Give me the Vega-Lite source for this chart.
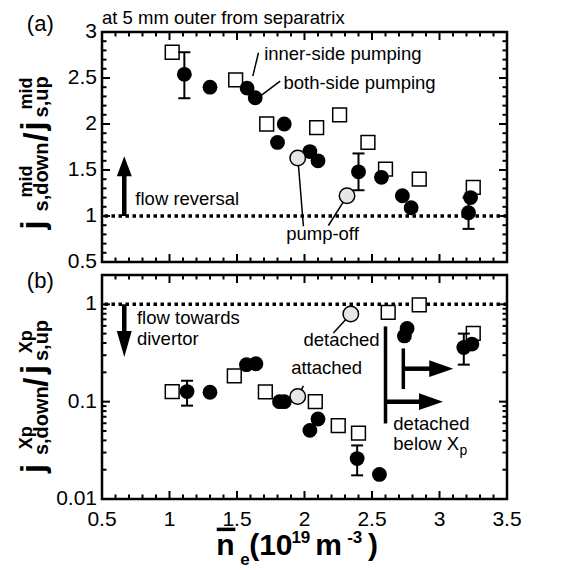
{
"$schema": "https://vega.github.io/schema/vega-lite/v6.json",
"background": "white",
"padding": {"left": 17, "top": 8, "right": 5, "bottom": 0},
"bounds": "flush",
"spacing": 13,
"datasets": {
 "one": [{"y": 1}],
 "xMajA": [{"v":0.5,"lo":0.5,"hi":3},{"v":1,"lo":0.5,"hi":3},{"v":1.5,"lo":0.5,"hi":3},{"v":2,"lo":0.5,"hi":3},{"v":2.5,"lo":0.5,"hi":3},{"v":3,"lo":0.5,"hi":3},{"v":3.5,"lo":0.5,"hi":3}],
 "xMinA": [{"v":0.6,"lo":0.5,"hi":3},{"v":0.7,"lo":0.5,"hi":3},{"v":0.8,"lo":0.5,"hi":3},{"v":0.9,"lo":0.5,"hi":3},{"v":1.1,"lo":0.5,"hi":3},{"v":1.2,"lo":0.5,"hi":3},{"v":1.3,"lo":0.5,"hi":3},{"v":1.4,"lo":0.5,"hi":3},{"v":1.6,"lo":0.5,"hi":3},{"v":1.7,"lo":0.5,"hi":3},{"v":1.8,"lo":0.5,"hi":3},{"v":1.9,"lo":0.5,"hi":3},{"v":2.1,"lo":0.5,"hi":3},{"v":2.2,"lo":0.5,"hi":3},{"v":2.3,"lo":0.5,"hi":3},{"v":2.4,"lo":0.5,"hi":3},{"v":2.6,"lo":0.5,"hi":3},{"v":2.7,"lo":0.5,"hi":3},{"v":2.8,"lo":0.5,"hi":3},{"v":2.9,"lo":0.5,"hi":3},{"v":3.1,"lo":0.5,"hi":3},{"v":3.2,"lo":0.5,"hi":3},{"v":3.3,"lo":0.5,"hi":3},{"v":3.4,"lo":0.5,"hi":3}],
 "yMajA": [{"v":0.5,"l":0.5,"r":3.5},{"v":1,"l":0.5,"r":3.5},{"v":1.5,"l":0.5,"r":3.5},{"v":2,"l":0.5,"r":3.5},{"v":2.5,"l":0.5,"r":3.5},{"v":3,"l":0.5,"r":3.5}],
 "yMinA": [{"v":0.6,"l":0.5,"r":3.5},{"v":0.7,"l":0.5,"r":3.5},{"v":0.8,"l":0.5,"r":3.5},{"v":0.9,"l":0.5,"r":3.5},{"v":1.1,"l":0.5,"r":3.5},{"v":1.2,"l":0.5,"r":3.5},{"v":1.3,"l":0.5,"r":3.5},{"v":1.4,"l":0.5,"r":3.5},{"v":1.6,"l":0.5,"r":3.5},{"v":1.7,"l":0.5,"r":3.5},{"v":1.8,"l":0.5,"r":3.5},{"v":1.9,"l":0.5,"r":3.5},{"v":2.1,"l":0.5,"r":3.5},{"v":2.2,"l":0.5,"r":3.5},{"v":2.3,"l":0.5,"r":3.5},{"v":2.4,"l":0.5,"r":3.5},{"v":2.6,"l":0.5,"r":3.5},{"v":2.7,"l":0.5,"r":3.5},{"v":2.8,"l":0.5,"r":3.5},{"v":2.9,"l":0.5,"r":3.5}],
 "xMajB": [{"v":0.5,"lo":0.01,"hi":2},{"v":1,"lo":0.01,"hi":2},{"v":1.5,"lo":0.01,"hi":2},{"v":2,"lo":0.01,"hi":2},{"v":2.5,"lo":0.01,"hi":2},{"v":3,"lo":0.01,"hi":2},{"v":3.5,"lo":0.01,"hi":2}],
 "xMinB": [{"v":0.6,"lo":0.01,"hi":2},{"v":0.7,"lo":0.01,"hi":2},{"v":0.8,"lo":0.01,"hi":2},{"v":0.9,"lo":0.01,"hi":2},{"v":1.1,"lo":0.01,"hi":2},{"v":1.2,"lo":0.01,"hi":2},{"v":1.3,"lo":0.01,"hi":2},{"v":1.4,"lo":0.01,"hi":2},{"v":1.6,"lo":0.01,"hi":2},{"v":1.7,"lo":0.01,"hi":2},{"v":1.8,"lo":0.01,"hi":2},{"v":1.9,"lo":0.01,"hi":2},{"v":2.1,"lo":0.01,"hi":2},{"v":2.2,"lo":0.01,"hi":2},{"v":2.3,"lo":0.01,"hi":2},{"v":2.4,"lo":0.01,"hi":2},{"v":2.6,"lo":0.01,"hi":2},{"v":2.7,"lo":0.01,"hi":2},{"v":2.8,"lo":0.01,"hi":2},{"v":2.9,"lo":0.01,"hi":2},{"v":3.1,"lo":0.01,"hi":2},{"v":3.2,"lo":0.01,"hi":2},{"v":3.3,"lo":0.01,"hi":2},{"v":3.4,"lo":0.01,"hi":2}],
 "yMajB": [{"v":0.01,"l":0.5,"r":3.5},{"v":0.1,"l":0.5,"r":3.5},{"v":1,"l":0.5,"r":3.5}],
 "yMinB": [{"v":0.02,"l":0.5,"r":3.5},{"v":0.03,"l":0.5,"r":3.5},{"v":0.04,"l":0.5,"r":3.5},{"v":0.05,"l":0.5,"r":3.5},{"v":0.06,"l":0.5,"r":3.5},{"v":0.07,"l":0.5,"r":3.5},{"v":0.08,"l":0.5,"r":3.5},{"v":0.09,"l":0.5,"r":3.5},{"v":0.2,"l":0.5,"r":3.5},{"v":0.3,"l":0.5,"r":3.5},{"v":0.4,"l":0.5,"r":3.5},{"v":0.5,"l":0.5,"r":3.5},{"v":0.6,"l":0.5,"r":3.5},{"v":0.7,"l":0.5,"r":3.5},{"v":0.8,"l":0.5,"r":3.5},{"v":0.9,"l":0.5,"r":3.5}],
 "sqA": [{"x":1.02,"y":2.78},{"x":1.49,"y":2.48},{"x":1.72,"y":2.0},{"x":2.09,"y":1.96},{"x":2.26,"y":2.10},{"x":2.47,"y":1.80},{"x":2.60,"y":1.51},{"x":2.85,"y":1.40},{"x":3.25,"y":1.31}],
 "ciA": [{"x":1.11,"y":2.54},{"x":1.30,"y":2.40},{"x":1.575,"y":2.39},{"x":1.635,"y":2.285},{"x":1.80,"y":1.80},{"x":1.85,"y":2.0},{"x":2.04,"y":1.70},{"x":2.10,"y":1.60},{"x":2.40,"y":1.48},{"x":2.57,"y":1.42},{"x":2.725,"y":1.22},{"x":2.79,"y":1.09},{"x":3.23,"y":1.20},{"x":3.215,"y":1.035}],
 "grA": [{"x":1.95,"y":1.63},{"x":2.315,"y":1.22}],
 "errA": [{"x":1.11,"lo":2.28,"hi":2.78},{"x":2.40,"lo":1.28,"hi":1.68},{"x":3.215,"lo":0.86,"hi":1.20}],
 "leadA": [{"x":1.617,"y":2.52,"x2":1.659,"y2":2.775},{"x":1.672,"y":2.302,"x2":1.82,"y2":2.465},{"x":1.951,"y":1.628,"x2":1.992,"y2":0.889},{"x":2.316,"y":1.219,"x2":2.177,"y2":0.897}],
 "txtA": [{"t":"inner-side pumping","x":1.701,"y":2.70},{"t":"both-side pumping","x":1.844,"y":2.383},{"t":"pump-off","x":1.864,"y":0.737},{"t":"flow reversal","x":0.747,"y":1.125},{"t":"at 5 mm outer from separatrix","x":0.5,"y":3.082}],
 "labA": [{"t":"(a)","x":0.043,"y":3.009}],
 "shaftA": [{"x":0.665,"y":1.0,"y2":1.45}],
 "headUpA": [{"x":0.665,"y":1.541}],
 "tBigA": [{"t":"j","x":0.073,"y":0.853},{"t":"/","x":0.095,"y":1.81},{"t":"j","x":0.073,"y":1.929}],
 "tSupA": [{"t":"mid","x":-0.016,"y":1.201},{"t":"mid","x":-0.016,"y":2.158}],
 "tSubA": [{"t":"s,down","x":0.103,"y":1.049},{"t":"s,up","x":0.103,"y":2.071}],
 "sqB": [{"x":1.02,"y":0.127},{"x":1.48,"y":0.184},{"x":1.71,"y":0.126},{"x":2.08,"y":0.100},{"x":2.25,"y":0.0566},{"x":2.40,"y":0.0476},{"x":2.62,"y":0.825},{"x":2.85,"y":0.985},{"x":3.25,"y":0.503}],
 "ciB": [{"x":1.13,"y":0.127},{"x":1.30,"y":0.125},{"x":1.57,"y":0.24},{"x":1.64,"y":0.245},{"x":1.815,"y":0.10},{"x":1.85,"y":0.10},{"x":2.04,"y":0.0507},{"x":2.10,"y":0.0664},{"x":2.39,"y":0.026},{"x":2.555,"y":0.0179},{"x":2.74,"y":0.473},{"x":2.76,"y":0.565},{"x":3.18,"y":0.36},{"x":3.24,"y":0.39}],
 "grB": [{"x":1.95,"y":0.113},{"x":2.343,"y":0.794}],
 "errB": [{"x":1.13,"lo":0.091,"hi":0.164},{"x":2.39,"lo":0.0175,"hi":0.0355},{"x":3.18,"lo":0.24,"hi":0.50}],
 "leadB": [{"x":2.343,"y":0.794,"x2":2.214,"y2":0.507},{"x":1.951,"y":0.113,"x2":1.992,"y2":0.1455}],
 "txtB": [{"t":"flow towards","x":0.759,"y":0.6215},{"t":"divertor","x":0.759,"y":0.380},{"t":"detached","x":1.992,"y":0.371},{"t":"attached","x":1.901,"y":0.191},{"t":"detached","x":2.658,"y":0.0515},{"t":"below X","x":2.658,"y":0.0318}],
 "subB": [{"t":"p","x":3.148,"y":0.0282}],
 "labB": [{"t":"(b)","x":0.043,"y":1.455}],
 "shaftB": [{"x":0.665,"y":1.0,"y2":0.5}],
 "headDownB": [{"x":0.665,"y":0.392}],
 "vertB": [{"x":2.600,"y":0.593,"y2":0.0597},{"x":2.732,"y":0.352,"y2":0.1346}],
 "hshaftB": [{"x":2.600,"x2":2.87,"y":0.1},{"x":2.732,"x2":2.94,"y":0.218}],
 "headRightB": [{"x":2.937,"y":0.1},{"x":3.013,"y":0.218}],
 "tBigB": [{"t":"j","x":0.073,"y":0.01852},{"t":"/","x":0.095,"y":0.1422},{"t":"j","x":0.073,"y":0.1928}],
 "tSupB": [{"t":"Xp","x":-0.016,"y":0.0325},{"t":"Xp","x":-0.016,"y":0.315}],
 "tSubB": [{"t":"s,down","x":0.103,"y":0.02823},{"t":"s,up","x":0.103,"y":0.2613}],
 "xtBig": [{"t":"n","x":1.346,"y":0.002649},{"t":"(10","x":1.590,"y":0.002649},{"t":"m","x":2.079,"y":0.002649},{"t":")","x":2.471,"y":0.002649}],
 "xtSmall": [{"t":"19","x":1.903,"y":0.003509},{"t":"-3","x":2.316,"y":0.003509},{"t":"e","x":1.524,"y":0.002095}],
 "xtBar": [{"x":1.350,"x2":1.488,"y":0.004875}]
},
"vconcat": [
 {
  "width": 405, "height": 230,
  "layer": [
   {"data":{"name":"one"},"mark":{"type":"rule","strokeDash":[3.5,3.5],"strokeWidth":3.5,"color":"black"},
    "encoding":{"y":{"field":"y","type":"quantitative","scale":{"domain":[0.5,3],"nice":false,"zero":false},"axis":null}}},
   {"data":{"name":"sqA"},"mark":{"type":"point","shape":"square","filled":true,"fill":"white","stroke":"black","strokeWidth":1.5,"size":190,"opacity":1},
    "encoding":{"x":{"field":"x","type":"quantitative","scale":{"domain":[0.5,3.5],"nice":false,"zero":false},"axis":null},
     "y":{"field":"y","type":"quantitative","scale":{"domain":[0.5,3],"nice":false,"zero":false},"axis":null}}},
   {"data":{"name":"errA"},"mark":{"type":"rule","strokeWidth":2,"color":"black"},
    "encoding":{"x":{"field":"x","type":"quantitative","scale":{"domain":[0.5,3.5],"nice":false,"zero":false},"axis":null},
     "y":{"field":"lo","type":"quantitative","scale":{"domain":[0.5,3],"nice":false,"zero":false},"axis":null},"y2":{"field":"hi"}}},
   {"data":{"name":"errA"},"mark":{"type":"tick","orient":"horizontal","size":12,"thickness":2,"color":"black","opacity":1},
    "encoding":{"x":{"field":"x","type":"quantitative","scale":{"domain":[0.5,3.5],"nice":false,"zero":false},"axis":null},
     "y":{"field":"lo","type":"quantitative","scale":{"domain":[0.5,3],"nice":false,"zero":false},"axis":null}}},
   {"data":{"name":"errA"},"mark":{"type":"tick","orient":"horizontal","size":12,"thickness":2,"color":"black","opacity":1},
    "encoding":{"x":{"field":"x","type":"quantitative","scale":{"domain":[0.5,3.5],"nice":false,"zero":false},"axis":null},
     "y":{"field":"hi","type":"quantitative","scale":{"domain":[0.5,3],"nice":false,"zero":false},"axis":null}}},
   {"data":{"name":"leadA"},"mark":{"type":"rule","strokeWidth":1.5,"color":"black"},
    "encoding":{"x":{"field":"x","type":"quantitative","scale":{"domain":[0.5,3.5],"nice":false,"zero":false},"axis":null},"x2":{"field":"x2"},
     "y":{"field":"y","type":"quantitative","scale":{"domain":[0.5,3],"nice":false,"zero":false},"axis":null},"y2":{"field":"y2"}}},
   {"data":{"name":"ciA"},"mark":{"type":"point","shape":"circle","filled":true,"color":"black","size":220,"opacity":1},
    "encoding":{"x":{"field":"x","type":"quantitative","scale":{"domain":[0.5,3.5],"nice":false,"zero":false},"axis":null},
     "y":{"field":"y","type":"quantitative","scale":{"domain":[0.5,3],"nice":false,"zero":false},"axis":null}}},
   {"data":{"name":"grA"},"mark":{"type":"point","shape":"circle","filled":true,"fill":"#e6e6e6","stroke":"black","strokeWidth":1.5,"size":240,"opacity":1},
    "encoding":{"x":{"field":"x","type":"quantitative","scale":{"domain":[0.5,3.5],"nice":false,"zero":false},"axis":null},
     "y":{"field":"y","type":"quantitative","scale":{"domain":[0.5,3],"nice":false,"zero":false},"axis":null}}},
   {"data":{"name":"txtA"},"mark":{"type":"text","align":"left","baseline":"alphabetic","fontSize":18.5,"font":"Liberation Sans","color":"black"},
    "encoding":{"text":{"field":"t"},"x":{"field":"x","type":"quantitative","scale":{"domain":[0.5,3.5],"nice":false,"zero":false},"axis":null},
     "y":{"field":"y","type":"quantitative","scale":{"domain":[0.5,3],"nice":false,"zero":false},"axis":null}}},
   {"data":{"name":"labA"},"mark":{"type":"text","align":"center","baseline":"alphabetic","fontSize":22,"font":"Liberation Sans","color":"black"},
    "encoding":{"text":{"field":"t"},"x":{"field":"x","type":"quantitative","scale":{"domain":[0.5,3.5],"nice":false,"zero":false},"axis":null},
     "y":{"field":"y","type":"quantitative","scale":{"domain":[0.5,3],"nice":false,"zero":false},"axis":null}}},
   {"data":{"name":"shaftA"},"mark":{"type":"rule","strokeWidth":4.5,"color":"black"},
    "encoding":{"x":{"field":"x","type":"quantitative","scale":{"domain":[0.5,3.5],"nice":false,"zero":false},"axis":null},
     "y":{"field":"y","type":"quantitative","scale":{"domain":[0.5,3],"nice":false,"zero":false},"axis":null},"y2":{"field":"y2"}}},
   {"data":{"name":"headUpA"},"mark":{"type":"point","shape":"M-0.75,1L0,-1L0.75,1Z","filled":true,"color":"black","size":400,"opacity":1,"strokeWidth":0},
    "encoding":{"x":{"field":"x","type":"quantitative","scale":{"domain":[0.5,3.5],"nice":false,"zero":false},"axis":null},
     "y":{"field":"y","type":"quantitative","scale":{"domain":[0.5,3],"nice":false,"zero":false},"axis":null}}},
   {"data":{"name":"tBigA"},"mark":{"type":"text","angle":270,"align":"left","baseline":"alphabetic","fontSize":33,"fontWeight":"bold","font":"Liberation Sans","color":"black"},
    "encoding":{"text":{"field":"t"},"x":{"field":"x","type":"quantitative","scale":{"domain":[0.5,3.5],"nice":false,"zero":false},"axis":null},
     "y":{"field":"y","type":"quantitative","scale":{"domain":[0.5,3],"nice":false,"zero":false},"axis":null}}},
   {"data":{"name":"tSupA"},"mark":{"type":"text","angle":270,"align":"left","baseline":"alphabetic","fontSize":18,"fontWeight":"bold","font":"Liberation Sans","color":"black"},
    "encoding":{"text":{"field":"t"},"x":{"field":"x","type":"quantitative","scale":{"domain":[0.5,3.5],"nice":false,"zero":false},"axis":null},
     "y":{"field":"y","type":"quantitative","scale":{"domain":[0.5,3],"nice":false,"zero":false},"axis":null}}},
   {"data":{"name":"tSubA"},"mark":{"type":"text","angle":270,"align":"left","baseline":"alphabetic","fontSize":20,"fontWeight":"bold","font":"Liberation Sans","color":"black"},
    "encoding":{"text":{"field":"t"},"x":{"field":"x","type":"quantitative","scale":{"domain":[0.5,3.5],"nice":false,"zero":false},"axis":null},
     "y":{"field":"y","type":"quantitative","scale":{"domain":[0.5,3],"nice":false,"zero":false},"axis":null}}},
   {"data":{"name":"xMajA"},"mark":{"type":"tick","orient":"vertical","size":16,"thickness":2,"color":"black","opacity":1,"clip":true},
    "encoding":{"x":{"field":"v","type":"quantitative","scale":{"domain":[0.5,3.5],"nice":false,"zero":false},"axis":null},"y":{"field":"lo","type":"quantitative","scale":{"domain":[0.5,3],"nice":false,"zero":false},"axis":null}}},
   {"data":{"name":"xMajA"},"mark":{"type":"tick","orient":"vertical","size":16,"thickness":2,"color":"black","opacity":1,"clip":true},
    "encoding":{"x":{"field":"v","type":"quantitative","scale":{"domain":[0.5,3.5],"nice":false,"zero":false},"axis":null},"y":{"field":"hi","type":"quantitative","scale":{"domain":[0.5,3],"nice":false,"zero":false},"axis":null}}},
   {"data":{"name":"xMinA"},"mark":{"type":"tick","orient":"vertical","size":9,"thickness":2,"color":"black","opacity":1,"clip":true},
    "encoding":{"x":{"field":"v","type":"quantitative","scale":{"domain":[0.5,3.5],"nice":false,"zero":false},"axis":null},"y":{"field":"lo","type":"quantitative","scale":{"domain":[0.5,3],"nice":false,"zero":false},"axis":null}}},
   {"data":{"name":"xMinA"},"mark":{"type":"tick","orient":"vertical","size":9,"thickness":2,"color":"black","opacity":1,"clip":true},
    "encoding":{"x":{"field":"v","type":"quantitative","scale":{"domain":[0.5,3.5],"nice":false,"zero":false},"axis":null},"y":{"field":"hi","type":"quantitative","scale":{"domain":[0.5,3],"nice":false,"zero":false},"axis":null}}},
   {"data":{"name":"yMajA"},"mark":{"type":"tick","orient":"horizontal","size":16,"thickness":2,"color":"black","opacity":1,"clip":true},
    "encoding":{"y":{"field":"v","type":"quantitative","scale":{"domain":[0.5,3],"nice":false,"zero":false},"axis":null},"x":{"field":"l","type":"quantitative","scale":{"domain":[0.5,3.5],"nice":false,"zero":false},"axis":null}}},
   {"data":{"name":"yMajA"},"mark":{"type":"tick","orient":"horizontal","size":16,"thickness":2,"color":"black","opacity":1,"clip":true},
    "encoding":{"y":{"field":"v","type":"quantitative","scale":{"domain":[0.5,3],"nice":false,"zero":false},"axis":null},"x":{"field":"r","type":"quantitative","scale":{"domain":[0.5,3.5],"nice":false,"zero":false},"axis":null}}},
   {"data":{"name":"yMinA"},"mark":{"type":"tick","orient":"horizontal","size":9,"thickness":2,"color":"black","opacity":1,"clip":true},
    "encoding":{"y":{"field":"v","type":"quantitative","scale":{"domain":[0.5,3],"nice":false,"zero":false},"axis":null},"x":{"field":"l","type":"quantitative","scale":{"domain":[0.5,3.5],"nice":false,"zero":false},"axis":null}}},
   {"data":{"name":"yMinA"},"mark":{"type":"tick","orient":"horizontal","size":9,"thickness":2,"color":"black","opacity":1,"clip":true},
    "encoding":{"y":{"field":"v","type":"quantitative","scale":{"domain":[0.5,3],"nice":false,"zero":false},"axis":null},"x":{"field":"r","type":"quantitative","scale":{"domain":[0.5,3.5],"nice":false,"zero":false},"axis":null}}},
   {"data":{"name":"yMajA"},"mark":{"type":"text","align":"right","baseline":"middle","dx":-5,"fontSize":21,"font":"Liberation Sans","color":"black"},
    "encoding":{"text":{"field":"v","type":"quantitative","format":"~g"},"y":{"field":"v","type":"quantitative","scale":{"domain":[0.5,3],"nice":false,"zero":false},"axis":null},"x":{"field":"l","type":"quantitative","scale":{"domain":[0.5,3.5],"nice":false,"zero":false},"axis":null}}}
  ]
 },
 {
  "width": 405, "height": 224,
  "layer": [
   {"data":{"name":"one"},"mark":{"type":"rule","strokeDash":[3.5,3.5],"strokeWidth":3.5,"color":"black"},
    "encoding":{"y":{"field":"y","type":"quantitative","scale":{"type":"log","domain":[0.01,2],"nice":false},"axis":null}}},
   {"data":{"name":"sqB"},"mark":{"type":"point","shape":"square","filled":true,"fill":"white","stroke":"black","strokeWidth":1.5,"size":190,"opacity":1},
    "encoding":{"x":{"field":"x","type":"quantitative","scale":{"domain":[0.5,3.5],"nice":false,"zero":false},"axis":null},
     "y":{"field":"y","type":"quantitative","scale":{"type":"log","domain":[0.01,2],"nice":false},"axis":null}}},
   {"data":{"name":"errB"},"mark":{"type":"rule","strokeWidth":2,"color":"black"},
    "encoding":{"x":{"field":"x","type":"quantitative","scale":{"domain":[0.5,3.5],"nice":false,"zero":false},"axis":null},
     "y":{"field":"lo","type":"quantitative","scale":{"type":"log","domain":[0.01,2],"nice":false},"axis":null},"y2":{"field":"hi"}}},
   {"data":{"name":"errB"},"mark":{"type":"tick","orient":"horizontal","size":12,"thickness":2,"color":"black","opacity":1},
    "encoding":{"x":{"field":"x","type":"quantitative","scale":{"domain":[0.5,3.5],"nice":false,"zero":false},"axis":null},
     "y":{"field":"lo","type":"quantitative","scale":{"type":"log","domain":[0.01,2],"nice":false},"axis":null}}},
   {"data":{"name":"errB"},"mark":{"type":"tick","orient":"horizontal","size":12,"thickness":2,"color":"black","opacity":1},
    "encoding":{"x":{"field":"x","type":"quantitative","scale":{"domain":[0.5,3.5],"nice":false,"zero":false},"axis":null},
     "y":{"field":"hi","type":"quantitative","scale":{"type":"log","domain":[0.01,2],"nice":false},"axis":null}}},
   {"data":{"name":"leadB"},"mark":{"type":"rule","strokeWidth":1.5,"color":"black"},
    "encoding":{"x":{"field":"x","type":"quantitative","scale":{"domain":[0.5,3.5],"nice":false,"zero":false},"axis":null},"x2":{"field":"x2"},
     "y":{"field":"y","type":"quantitative","scale":{"type":"log","domain":[0.01,2],"nice":false},"axis":null},"y2":{"field":"y2"}}},
   {"data":{"name":"ciB"},"mark":{"type":"point","shape":"circle","filled":true,"color":"black","size":220,"opacity":1},
    "encoding":{"x":{"field":"x","type":"quantitative","scale":{"domain":[0.5,3.5],"nice":false,"zero":false},"axis":null},
     "y":{"field":"y","type":"quantitative","scale":{"type":"log","domain":[0.01,2],"nice":false},"axis":null}}},
   {"data":{"name":"grB"},"mark":{"type":"point","shape":"circle","filled":true,"fill":"#e6e6e6","stroke":"black","strokeWidth":1.5,"size":240,"opacity":1},
    "encoding":{"x":{"field":"x","type":"quantitative","scale":{"domain":[0.5,3.5],"nice":false,"zero":false},"axis":null},
     "y":{"field":"y","type":"quantitative","scale":{"type":"log","domain":[0.01,2],"nice":false},"axis":null}}},
   {"data":{"name":"txtB"},"mark":{"type":"text","align":"left","baseline":"alphabetic","fontSize":18.5,"font":"Liberation Sans","color":"black"},
    "encoding":{"text":{"field":"t"},"x":{"field":"x","type":"quantitative","scale":{"domain":[0.5,3.5],"nice":false,"zero":false},"axis":null},
     "y":{"field":"y","type":"quantitative","scale":{"type":"log","domain":[0.01,2],"nice":false},"axis":null}}},
   {"data":{"name":"subB"},"mark":{"type":"text","align":"left","baseline":"alphabetic","fontSize":14,"font":"Liberation Sans","color":"black"},
    "encoding":{"text":{"field":"t"},"x":{"field":"x","type":"quantitative","scale":{"domain":[0.5,3.5],"nice":false,"zero":false},"axis":null},
     "y":{"field":"y","type":"quantitative","scale":{"type":"log","domain":[0.01,2],"nice":false},"axis":null}}},
   {"data":{"name":"labB"},"mark":{"type":"text","align":"center","baseline":"alphabetic","fontSize":22,"font":"Liberation Sans","color":"black"},
    "encoding":{"text":{"field":"t"},"x":{"field":"x","type":"quantitative","scale":{"domain":[0.5,3.5],"nice":false,"zero":false},"axis":null},
     "y":{"field":"y","type":"quantitative","scale":{"type":"log","domain":[0.01,2],"nice":false},"axis":null}}},
   {"data":{"name":"shaftB"},"mark":{"type":"rule","strokeWidth":4.5,"color":"black"},
    "encoding":{"x":{"field":"x","type":"quantitative","scale":{"domain":[0.5,3.5],"nice":false,"zero":false},"axis":null},
     "y":{"field":"y","type":"quantitative","scale":{"type":"log","domain":[0.01,2],"nice":false},"axis":null},"y2":{"field":"y2"}}},
   {"data":{"name":"headDownB"},"mark":{"type":"point","shape":"M-0.577,-1L0,1L0.577,-1Z","filled":true,"color":"black","size":676,"opacity":1,"strokeWidth":0},
    "encoding":{"x":{"field":"x","type":"quantitative","scale":{"domain":[0.5,3.5],"nice":false,"zero":false},"axis":null},
     "y":{"field":"y","type":"quantitative","scale":{"type":"log","domain":[0.01,2],"nice":false},"axis":null}}},
   {"data":{"name":"vertB"},"mark":{"type":"rule","strokeWidth":3.5,"color":"black"},
    "encoding":{"x":{"field":"x","type":"quantitative","scale":{"domain":[0.5,3.5],"nice":false,"zero":false},"axis":null},
     "y":{"field":"y","type":"quantitative","scale":{"type":"log","domain":[0.01,2],"nice":false},"axis":null},"y2":{"field":"y2"}}},
   {"data":{"name":"hshaftB"},"mark":{"type":"rule","strokeWidth":4.5,"color":"black"},
    "encoding":{"x":{"field":"x","type":"quantitative","scale":{"domain":[0.5,3.5],"nice":false,"zero":false},"axis":null},"x2":{"field":"x2"},
     "y":{"field":"y","type":"quantitative","scale":{"type":"log","domain":[0.01,2],"nice":false},"axis":null}}},
   {"data":{"name":"headRightB"},"mark":{"type":"point","shape":"M-1,-0.7L1,0L-1,0.7Z","filled":true,"color":"black","size":576,"opacity":1,"strokeWidth":0},
    "encoding":{"x":{"field":"x","type":"quantitative","scale":{"domain":[0.5,3.5],"nice":false,"zero":false},"axis":null},
     "y":{"field":"y","type":"quantitative","scale":{"type":"log","domain":[0.01,2],"nice":false},"axis":null}}},
   {"data":{"name":"tBigB"},"mark":{"type":"text","angle":270,"align":"left","baseline":"alphabetic","fontSize":33,"fontWeight":"bold","font":"Liberation Sans","color":"black"},
    "encoding":{"text":{"field":"t"},"x":{"field":"x","type":"quantitative","scale":{"domain":[0.5,3.5],"nice":false,"zero":false},"axis":null},
     "y":{"field":"y","type":"quantitative","scale":{"type":"log","domain":[0.01,2],"nice":false},"axis":null}}},
   {"data":{"name":"tSupB"},"mark":{"type":"text","angle":270,"align":"left","baseline":"alphabetic","fontSize":18,"fontWeight":"bold","font":"Liberation Sans","color":"black"},
    "encoding":{"text":{"field":"t"},"x":{"field":"x","type":"quantitative","scale":{"domain":[0.5,3.5],"nice":false,"zero":false},"axis":null},
     "y":{"field":"y","type":"quantitative","scale":{"type":"log","domain":[0.01,2],"nice":false},"axis":null}}},
   {"data":{"name":"tSubB"},"mark":{"type":"text","angle":270,"align":"left","baseline":"alphabetic","fontSize":20,"fontWeight":"bold","font":"Liberation Sans","color":"black"},
    "encoding":{"text":{"field":"t"},"x":{"field":"x","type":"quantitative","scale":{"domain":[0.5,3.5],"nice":false,"zero":false},"axis":null},
     "y":{"field":"y","type":"quantitative","scale":{"type":"log","domain":[0.01,2],"nice":false},"axis":null}}},
   {"data":{"name":"xtBig"},"mark":{"type":"text","align":"left","baseline":"alphabetic","fontSize":30,"fontWeight":"bold","font":"Liberation Sans","color":"black"},
    "encoding":{"text":{"field":"t"},"x":{"field":"x","type":"quantitative","scale":{"domain":[0.5,3.5],"nice":false,"zero":false},"axis":null},
     "y":{"field":"y","type":"quantitative","scale":{"type":"log","domain":[0.01,2],"nice":false},"axis":null}}},
   {"data":{"name":"xtSmall"},"mark":{"type":"text","align":"left","baseline":"alphabetic","fontSize":17,"fontWeight":"bold","font":"Liberation Sans","color":"black"},
    "encoding":{"text":{"field":"t"},"x":{"field":"x","type":"quantitative","scale":{"domain":[0.5,3.5],"nice":false,"zero":false},"axis":null},
     "y":{"field":"y","type":"quantitative","scale":{"type":"log","domain":[0.01,2],"nice":false},"axis":null}}},
   {"data":{"name":"xtBar"},"mark":{"type":"rule","strokeWidth":3.5,"color":"black"},
    "encoding":{"x":{"field":"x","type":"quantitative","scale":{"domain":[0.5,3.5],"nice":false,"zero":false},"axis":null},"x2":{"field":"x2"},
     "y":{"field":"y","type":"quantitative","scale":{"type":"log","domain":[0.01,2],"nice":false},"axis":null}}},
   {"data":{"name":"xMajB"},"mark":{"type":"tick","orient":"vertical","size":16,"thickness":2,"color":"black","opacity":1,"clip":true},
    "encoding":{"x":{"field":"v","type":"quantitative","scale":{"domain":[0.5,3.5],"nice":false,"zero":false},"axis":null},"y":{"field":"lo","type":"quantitative","scale":{"type":"log","domain":[0.01,2],"nice":false},"axis":null}}},
   {"data":{"name":"xMajB"},"mark":{"type":"tick","orient":"vertical","size":16,"thickness":2,"color":"black","opacity":1,"clip":true},
    "encoding":{"x":{"field":"v","type":"quantitative","scale":{"domain":[0.5,3.5],"nice":false,"zero":false},"axis":null},"y":{"field":"hi","type":"quantitative","scale":{"type":"log","domain":[0.01,2],"nice":false},"axis":null}}},
   {"data":{"name":"xMinB"},"mark":{"type":"tick","orient":"vertical","size":9,"thickness":2,"color":"black","opacity":1,"clip":true},
    "encoding":{"x":{"field":"v","type":"quantitative","scale":{"domain":[0.5,3.5],"nice":false,"zero":false},"axis":null},"y":{"field":"lo","type":"quantitative","scale":{"type":"log","domain":[0.01,2],"nice":false},"axis":null}}},
   {"data":{"name":"xMinB"},"mark":{"type":"tick","orient":"vertical","size":9,"thickness":2,"color":"black","opacity":1,"clip":true},
    "encoding":{"x":{"field":"v","type":"quantitative","scale":{"domain":[0.5,3.5],"nice":false,"zero":false},"axis":null},"y":{"field":"hi","type":"quantitative","scale":{"type":"log","domain":[0.01,2],"nice":false},"axis":null}}},
   {"data":{"name":"yMajB"},"mark":{"type":"tick","orient":"horizontal","size":16,"thickness":2,"color":"black","opacity":1,"clip":true},
    "encoding":{"y":{"field":"v","type":"quantitative","scale":{"type":"log","domain":[0.01,2],"nice":false},"axis":null},"x":{"field":"l","type":"quantitative","scale":{"domain":[0.5,3.5],"nice":false,"zero":false},"axis":null}}},
   {"data":{"name":"yMajB"},"mark":{"type":"tick","orient":"horizontal","size":16,"thickness":2,"color":"black","opacity":1,"clip":true},
    "encoding":{"y":{"field":"v","type":"quantitative","scale":{"type":"log","domain":[0.01,2],"nice":false},"axis":null},"x":{"field":"r","type":"quantitative","scale":{"domain":[0.5,3.5],"nice":false,"zero":false},"axis":null}}},
   {"data":{"name":"yMinB"},"mark":{"type":"tick","orient":"horizontal","size":9,"thickness":2,"color":"black","opacity":1,"clip":true},
    "encoding":{"y":{"field":"v","type":"quantitative","scale":{"type":"log","domain":[0.01,2],"nice":false},"axis":null},"x":{"field":"l","type":"quantitative","scale":{"domain":[0.5,3.5],"nice":false,"zero":false},"axis":null}}},
   {"data":{"name":"yMinB"},"mark":{"type":"tick","orient":"horizontal","size":9,"thickness":2,"color":"black","opacity":1,"clip":true},
    "encoding":{"y":{"field":"v","type":"quantitative","scale":{"type":"log","domain":[0.01,2],"nice":false},"axis":null},"x":{"field":"r","type":"quantitative","scale":{"domain":[0.5,3.5],"nice":false,"zero":false},"axis":null}}},
   {"data":{"name":"yMajB"},"mark":{"type":"text","align":"right","baseline":"middle","dx":-5,"fontSize":21,"font":"Liberation Sans","color":"black"},
    "encoding":{"text":{"field":"v","type":"quantitative","format":"~g"},"y":{"field":"v","type":"quantitative","scale":{"type":"log","domain":[0.01,2],"nice":false},"axis":null},"x":{"field":"l","type":"quantitative","scale":{"domain":[0.5,3.5],"nice":false,"zero":false},"axis":null}}},
   {"data":{"name":"xMajB"},"mark":{"type":"text","align":"center","baseline":"top","dy":10,"fontSize":21,"font":"Liberation Sans","color":"black"},
    "encoding":{"text":{"field":"v","type":"quantitative","format":"~g"},"x":{"field":"v","type":"quantitative","scale":{"domain":[0.5,3.5],"nice":false,"zero":false},"axis":null},"y":{"field":"lo","type":"quantitative","scale":{"type":"log","domain":[0.01,2],"nice":false},"axis":null}}}
  ]
 }
],
"config": {
 "view": {"stroke": "black", "strokeWidth": 2.5},
 "font": "Liberation Sans"
}
}
